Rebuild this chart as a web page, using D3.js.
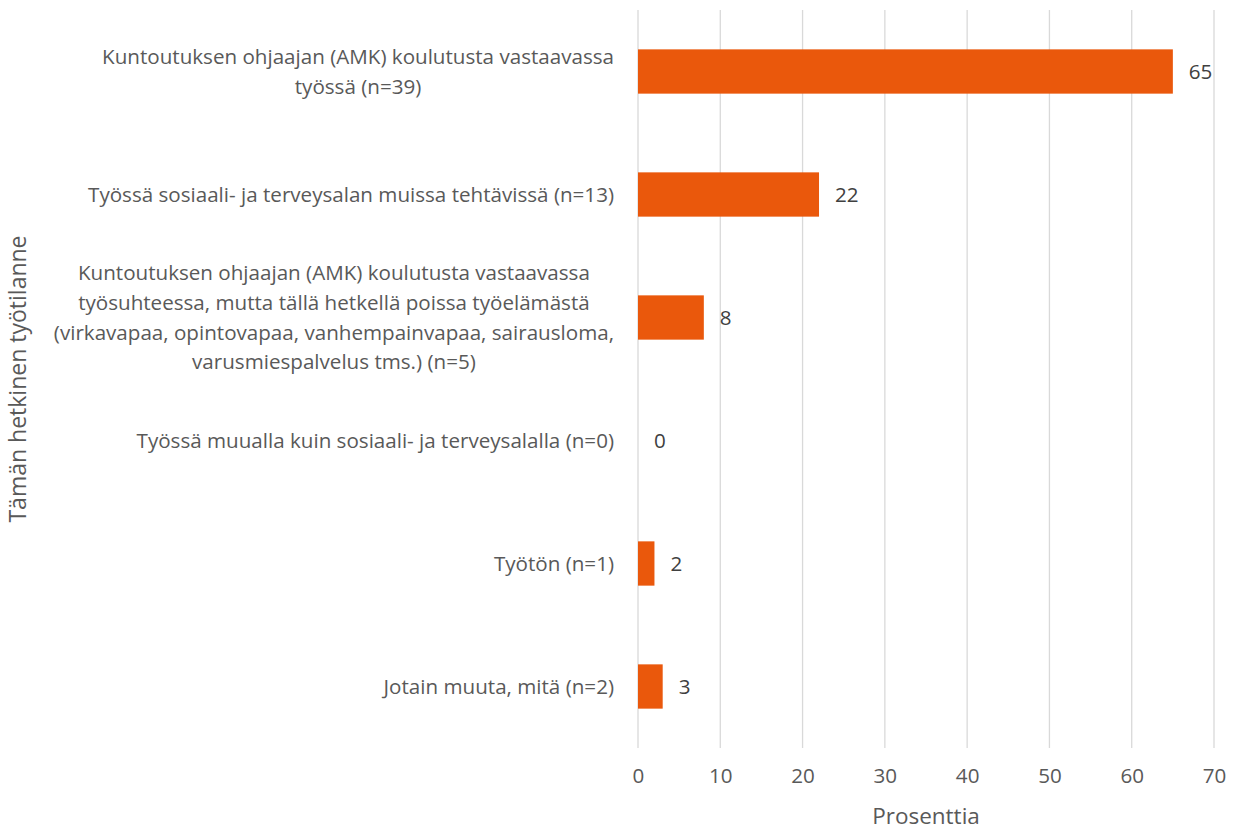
<!DOCTYPE html>
<html lang="fi">
<head>
<meta charset="utf-8">
<title>Tämän hetkinen työtilanne</title>
<script src="https://cdn.jsdelivr.net/npm/d3@7"></script>
<style>
  body { margin: 0; background: #fff; }
  text { font-family: "Open Sans", "Liberation Sans", sans-serif; fill: #595959; }
</style>
</head>
<body>
<script>
  var w = 1238;
  var h = 830;

  // category labels, one entry per line
  var categories = [
    ["Kuntoutuksen ohjaajan (AMK) koulutusta vastaavassa", "työssä (n=39)"],
    ["Työssä sosiaali- ja terveysalan muissa tehtävissä (n=13)"],
    ["Kuntoutuksen ohjaajan (AMK) koulutusta vastaavassa", "työsuhteessa, mutta tällä hetkellä poissa työelämästä", "(virkavapaa, opintovapaa, vanhempainvapaa, sairausloma,", "varusmiespalvelus tms.) (n=5)"],
    ["Työssä muualla kuin sosiaali- ja terveysalalla (n=0)"],
    ["Työtön (n=1)"],
    ["Jotain muuta, mitä (n=2)"]
  ];
  var values = [65, 22, 8, 0, 2, 3];
  var xTicks = [0, 10, 20, 30, 40, 50, 60, 70];
  var xTitle = "Prosenttia";
  var yTitle = "Tämän hetkinen työtilanne";

  var plot = { left: 638, right: 1214, top: 10, bottom: 748 };
  var labelSize = 20.6;

  var svg = d3.select("body").append("svg")
              .attr("width", w)
              .attr("height", h);

  var x = d3.scaleLinear().domain([0, 70]).range([plot.left, plot.right]);
  var y = d3.scaleBand().domain(d3.range(values.length))
            .range([plot.top, plot.bottom])
            .paddingInner(0.64).paddingOuter(0.32);

  // gridlines
  svg.append("g").selectAll("line")
     .data(xTicks).enter().append("line")
     .attr("x1", d => x(d)).attr("x2", d => x(d))
     .attr("y1", plot.top).attr("y2", plot.bottom)
     .attr("stroke", "#d9d9d9").attr("stroke-width", 1.3);

  // x axis labels
  var xAxis = d3.axisBottom(x).tickValues(xTicks).tickSize(0).tickPadding(20);
  var gx = svg.append("g").attr("transform", "translate(0," + plot.bottom + ")").call(xAxis);
  gx.select(".domain").remove();
  gx.selectAll("text").attr("font-size", labelSize).style("fill", "#595959")
    .style("font-family", '"Open Sans", sans-serif');

  // bars
  svg.append("g").selectAll("rect")
     .data(values).enter().append("rect")
     .attr("x", x(0))
     .attr("y", (d, i) => y(i))
     .attr("width", d => x(d) - x(0))
     .attr("height", y.bandwidth())
     .attr("fill", "#EA580C");

  // value labels
  svg.append("g").selectAll("text")
     .data(values).enter().append("text")
     .attr("x", d => x(d) + 16)
     .attr("y", (d, i) => y(i) + y.bandwidth() / 2)
     .attr("dy", "0.35em")
     .attr("font-size", labelSize)
     .style("fill", "#404040")
     .text(d => d);

  // category labels: block right aligned, lines centered
  var lineH = 29.6;
  var catG = svg.append("g");
  categories.forEach(function(lines, i) {
    var g = catG.append("g");
    var cy = y(i) + y.bandwidth() / 2;
    var t = g.selectAll("text").data(lines).enter().append("text")
             .attr("font-size", labelSize)
             .attr("text-anchor", "middle")
             .attr("y", (d, j) => cy + (j - (lines.length - 1) / 2) * lineH)
             .attr("dy", "0.35em")
             .text(d => d);
    var maxW = 0;
    t.each(function() { maxW = Math.max(maxW, this.getComputedTextLength()); });
    t.attr("x", 614 - maxW / 2);
  });

  // axis titles
  svg.append("text")
     .attr("x", (plot.left + plot.right) / 2)
     .attr("y", 816).attr("dy", "0.35em")
     .attr("text-anchor", "middle")
     .attr("font-size", 22.5)
     .text(xTitle);

  svg.append("text")
     .attr("transform", "translate(18,379) rotate(-90)")
     .attr("dy", "0.35em")
     .attr("text-anchor", "middle")
     .attr("font-size", 23)
     .text(yTitle);
</script>
</body>
</html>
